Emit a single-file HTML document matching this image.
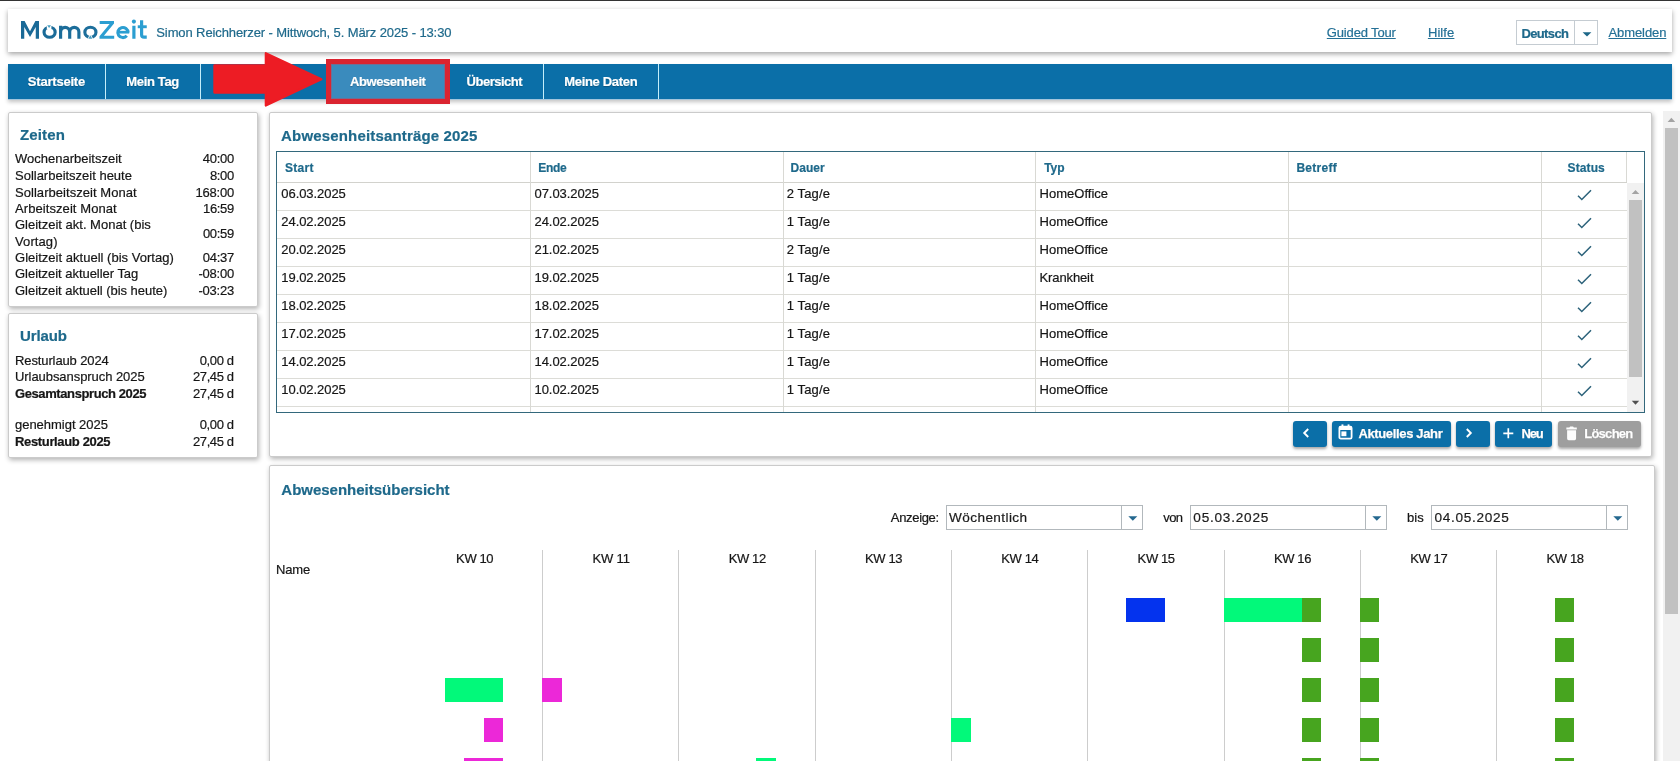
<!DOCTYPE html>
<html><head><meta charset="utf-8"><title>MomoZeit</title>
<style>
*{box-sizing:border-box;margin:0;padding:0}
html,body{width:1680px;height:761px;overflow:hidden;background:#fff}
body{font-family:"Liberation Sans",sans-serif;font-size:13px;color:#161616;position:relative}
#wrap{position:absolute;left:0;top:0;width:1680px;height:761px;overflow:hidden;will-change:transform}
.t{position:absolute;white-space:nowrap;-webkit-text-stroke:0.2px currentColor;line-height:16px;height:16px}
.abs{position:absolute}
.panel{position:absolute;background:#fff;border:1px solid #cbcbcb;border-radius:2px;box-shadow:1px 2px 5px rgba(0,0,0,.3)}
.b{font-weight:bold}
.teal{color:#1e698b}
.h1{font-weight:bold;font-size:16px;color:#1e698b;line-height:20px;height:20px}
.h2{font-weight:bold;font-size:15px;color:#1e698b;line-height:20px;height:20px}
.nav{color:#fff;font-weight:bold;font-size:12px;text-shadow:0 1px 1px rgba(0,0,0,.25)}
.th{font-weight:bold;font-size:12px;color:#1e698b}
.lnk{color:#247096;text-decoration:underline;text-underline-offset:1px;text-decoration-thickness:1px}
.btn{position:absolute;top:421px;height:25.5px;background:#0b6fa8;border-radius:3px;box-shadow:0 2px 3px rgba(0,0,0,.35)}
.btn .t{color:#fff;text-shadow:0 0 1px rgba(0,0,0,.35);-webkit-text-stroke:0.25px #fff}
.inp{position:absolute;top:505px;height:25px;border:1px solid #b2b8bc;background:#fff}
.inp i{position:absolute;top:0;bottom:0;width:1px;background:#b2b8bc}
.inp .t{color:#1c1c1c}
.tri{position:absolute;width:0;height:0;border-left:4.5px solid transparent;border-right:4.5px solid transparent;border-top:5px solid #0b6fa8}
.bar{position:absolute;height:24px}
</style></head>
<body>
<div id="wrap">
<div class="abs" style="left:0;top:0;width:1680px;height:1px;background:#333"></div>
<div class="abs" style="left:8px;top:9px;width:1664px;height:43px;background:#fff;box-shadow:0 2px 5px rgba(0,0,0,.36)"></div>
<svg class="abs" style="left:0;top:0" width="160" height="52" viewBox="0 0 160 52" fill="none">
<defs><linearGradient id="lg" x1="21" x2="99" y1="0" y2="0" gradientUnits="userSpaceOnUse"><stop offset="0" stop-color="#1a6996"/><stop offset="1" stop-color="#1d6f9c"/></linearGradient></defs>
<path d="M21 38.75V21H24.6L30 31.2L35.4 21H39V38.75H35.75V26.9L30 36.9L24.25 26.9V38.75Z" fill="url(#lg)"/>
<g stroke="url(#lg)" stroke-width="3.15">
<ellipse cx="49.6" cy="32.2" rx="5.55" ry="5"/>
<path d="M60.6 38.75V25.75M60.6 31.9a4.55 4.55 0 0 1 9.1 0V38.75M69.7 31.9a4.6 4.55 0 0 1 9.2 0V38.75"/>
<ellipse cx="90.4" cy="32.2" rx="5.55" ry="5"/>
</g>
<rect x="46.8" y="23.5" width="4.6" height="5.6" fill="#fff"/>
<path d="M47.2 25.2h3.8l-1.9 2.9z" fill="#4aa0c2"/>
<path d="M86.9 40L90.35 33.6L93.8 40z" fill="#fff"/>
<path d="M88.3 38.75h4.1l-2.05-3.5z" fill="#4aa0c2"/>
<g fill="#2b9ed1">
<path d="M99.7 21H114V23.5L103.9 35.8H114.2V38.75H99.5V36.3L109.6 24H99.7Z"/>
<rect x="132.3" y="25.75" width="3.2" height="13"/>
<circle cx="133.9" cy="21.6" r="2.05"/>
<rect x="137.75" y="25.3" width="9" height="2.9"/>
</g>
<g stroke="#2b9ed1">
<path d="M118 32.2H129.2" stroke-width="2.7"/>
<path d="M128 32.6A5.1 5 0 1 0 126.8 35.8" stroke-width="3.1"/>
<path d="M141.6 20.2V34.7Q141.6 37.2 144.1 37.2H146.75" stroke-width="3.2"/>
</g>
</svg>
<div class="t teal" id="hdr" style="left:156.30px;top:24.8px;font-size:13px;letter-spacing:-0.110px;line-height:16px;height:16px;">Simon Reichherzer - Mittwoch, 5. März 2025 - 13:30</div>
<div class="t lnk" id="gt" style="left:1326.80px;top:24.9px;font-size:13px;letter-spacing:-0.149px;line-height:16px;height:16px;">Guided Tour</div>
<div class="t lnk" id="hilfe" style="left:1427.90px;top:24.9px;font-size:13px;letter-spacing:0.097px;line-height:16px;height:16px;">Hilfe</div>
<div class="abs" style="left:1516px;top:20px;width:82px;height:25px;border:1px solid #c5ccd2;background:#fff"></div>
<div class="abs" style="left:1574px;top:20px;width:1px;height:25px;background:#c5ccd2"></div>
<div class="t teal" id="deutsch" style="left:1521.50px;top:25.9px;font-size:13px;font-weight:bold;letter-spacing:-0.648px;line-height:16px;height:16px;">Deutsch</div>
<svg class="abs" style="left:1582px;top:32px" width="10" height="6" viewBox="0 0 10 6"><path d="M0.6 0.2H9.4L5 4.6z" fill="#1d6788"/></svg>
<div class="t lnk" id="abm" style="left:1608.50px;top:24.9px;font-size:13px;letter-spacing:-0.091px;line-height:16px;height:16px;">Abmelden</div>
<div class="abs" style="left:8px;top:64px;width:1664px;height:35px;background:#0b6fa8;box-shadow:0 1px 0 rgba(150,195,225,.75),0 3px 4px rgba(0,0,0,.24)"></div>
<div class="abs" style="left:105px;top:64px;width:1px;height:35px;background:#c4eefa"></div>
<div class="abs" style="left:200px;top:64px;width:1px;height:35px;background:#c4eefa"></div>
<div class="abs" style="left:543px;top:64px;width:1px;height:35px;background:#c4eefa"></div>
<div class="abs" style="left:658px;top:64px;width:1px;height:35px;background:#c4eefa"></div>
<div class="t nav" id="n1" style="left:27.80px;top:73.6px;font-size:13px;font-weight:bold;letter-spacing:-0.206px;line-height:16px;height:16px;">Startseite</div>
<div class="t nav" id="n2" style="left:126.35px;top:73.6px;font-size:13px;font-weight:bold;letter-spacing:-0.352px;line-height:16px;height:16px;">Mein Tag</div>
<div class="t nav" id="n4" style="left:466.60px;top:73.6px;font-size:13px;font-weight:bold;letter-spacing:-0.494px;line-height:16px;height:16px;">Übersicht</div>
<div class="t nav" id="n5" style="left:564.30px;top:73.6px;font-size:13px;font-weight:bold;letter-spacing:-0.327px;line-height:16px;height:16px;">Meine Daten</div>
<div class="abs" style="left:326px;top:59px;width:124px;height:45px;background:#da2430"></div>
<div class="abs" style="left:331px;top:64px;width:114px;height:35px;background:#3a8bbd;box-shadow:inset 0 0 0 1px rgba(190,70,90,.4)"></div>
<div class="t nav" id="n3" style="left:350.10px;top:73.6px;font-size:13px;font-weight:bold;letter-spacing:-0.438px;line-height:16px;height:16px;">Abwesenheit</div>
<svg class="abs" style="left:205px;top:48px" width="125" height="64" viewBox="205 48 125 64"><path d="M214.4 65.4H265.8V53.2L321.4 79.35L265.8 105.5V92.6H214.4z" fill="#ed1c24" stroke="#ed1c24" stroke-width="2.2" stroke-linejoin="round"/></svg>
<div class="panel" style="left:8px;top:112px;width:250px;height:195px"></div>
<div class="t teal" id="zeiten" style="left:19.95px;top:124.9px;font-size:15px;font-weight:bold;letter-spacing:0.155px;line-height:20px;height:20px;">Zeiten</div>
<div class="t " id="zl0" style="left:15.00px;top:151px;font-size:13px;letter-spacing:-0.000px;line-height:16px;height:16px;">Wochenarbeitszeit</div>
<div class="t " id="zv0" style="left:202.70px;top:151.3px;font-size:13px;letter-spacing:-0.256px;line-height:16px;height:16px;">40:00</div>
<div class="t " id="zl1" style="left:15.00px;top:168px;font-size:13px;letter-spacing:-0.008px;line-height:16px;height:16px;">Sollarbeitszeit heute</div>
<div class="t " id="zv1" style="left:210.00px;top:168.3px;font-size:13px;letter-spacing:-0.366px;line-height:16px;height:16px;">8:00</div>
<div class="t " id="zl2" style="left:15.00px;top:185px;font-size:13px;letter-spacing:0.047px;line-height:16px;height:16px;">Sollarbeitszeit Monat</div>
<div class="t " id="zv2" style="left:195.40px;top:185.3px;font-size:13px;letter-spacing:-0.193px;line-height:16px;height:16px;">168:00</div>
<div class="t " id="zl3" style="left:15.00px;top:201px;font-size:13px;letter-spacing:0.079px;line-height:16px;height:16px;">Arbeitszeit Monat</div>
<div class="t " id="zv3" style="left:203.00px;top:201.3px;font-size:13px;letter-spacing:-0.332px;line-height:16px;height:16px;">16:59</div>
<div class="t " id="zl4" style="left:15.00px;top:217px;font-size:13px;letter-spacing:-0.001px;line-height:16px;height:16px;">Gleitzeit akt. Monat (bis</div>
<div class="t " id="zl5" style="left:15.00px;top:234px;font-size:13px;letter-spacing:0.098px;line-height:16px;height:16px;">Vortag)</div>
<div class="t " id="zl6" style="left:15.00px;top:250px;font-size:13px;letter-spacing:0.019px;line-height:16px;height:16px;">Gleitzeit aktuell (bis Vortag)</div>
<div class="t " id="zv6" style="left:202.80px;top:250.3px;font-size:13px;letter-spacing:-0.281px;line-height:16px;height:16px;">04:37</div>
<div class="t " id="zl7" style="left:15.00px;top:266px;font-size:13px;letter-spacing:-0.034px;line-height:16px;height:16px;">Gleitzeit aktueller Tag</div>
<div class="t " id="zv7" style="left:198.50px;top:266.3px;font-size:13px;letter-spacing:-0.231px;line-height:16px;height:16px;">-08:00</div>
<div class="t " id="zl8" style="left:15.00px;top:283px;font-size:13px;letter-spacing:-0.031px;line-height:16px;height:16px;">Gleitzeit aktuell (bis heute)</div>
<div class="t " id="zv8" style="left:198.50px;top:283.3px;font-size:13px;letter-spacing:-0.231px;line-height:16px;height:16px;">-03:23</div>
<div class="t " id="zv4" style="left:202.90px;top:226px;font-size:13px;letter-spacing:-0.306px;line-height:16px;height:16px;">00:59</div>
<div class="panel" style="left:8px;top:313px;width:250px;height:145px"></div>
<div class="t teal" id="urlaub" style="left:20.10px;top:325.7px;font-size:15px;font-weight:bold;letter-spacing:-0.161px;line-height:20px;height:20px;">Urlaub</div>
<div class="t " id="ul0" style="left:15.00px;top:353px;font-size:13px;letter-spacing:-0.114px;line-height:16px;height:16px;">Resturlaub 2024</div>
<div class="t " id="uv0" style="left:199.80px;top:353.3px;font-size:13px;letter-spacing:-0.408px;line-height:16px;height:16px;">0,00 d</div>
<div class="t " id="ul1" style="left:15.00px;top:369px;font-size:13px;letter-spacing:-0.063px;line-height:16px;height:16px;">Urlaubsanspruch 2025</div>
<div class="t " id="uv1" style="left:193.00px;top:369.3px;font-size:13px;letter-spacing:-0.411px;line-height:16px;height:16px;">27,45 d</div>
<div class="t " id="ul2" style="left:15.00px;top:386px;font-size:13px;font-weight:bold;letter-spacing:-0.402px;line-height:16px;height:16px;">Gesamtanspruch 2025</div>
<div class="t " id="uv2" style="left:193.00px;top:386.3px;font-size:13px;letter-spacing:-0.411px;line-height:16px;height:16px;">27,45 d</div>
<div class="t " id="ul3" style="left:15.00px;top:416.9px;font-size:13px;letter-spacing:-0.026px;line-height:16px;height:16px;">genehmigt 2025</div>
<div class="t " id="uv3" style="left:199.80px;top:417.2px;font-size:13px;letter-spacing:-0.408px;line-height:16px;height:16px;">0,00 d</div>
<div class="t " id="ul4" style="left:15.00px;top:433.8px;font-size:13px;font-weight:bold;letter-spacing:-0.346px;line-height:16px;height:16px;">Resturlaub 2025</div>
<div class="t " id="uv4" style="left:193.00px;top:434.1px;font-size:13px;letter-spacing:-0.411px;line-height:16px;height:16px;">27,45 d</div>
<div class="panel" style="left:269px;top:112px;width:1383px;height:345px"></div>
<div class="t teal" id="p1t" style="left:281.10px;top:125.6px;font-size:15px;font-weight:bold;letter-spacing:0.162px;line-height:20px;height:20px;">Abwesenheitsanträge 2025</div>
<div class="abs" style="left:276px;top:151px;width:1369px;height:262px;border:1px solid #33687c;background:#fff"></div>
<div class="abs" style="left:277px;top:182px;width:1350px;height:1px;background:#d2d2cd"></div>
<div class="abs" style="left:277px;top:210px;width:1350px;height:1px;background:#dcdcd7"></div>
<div class="abs" style="left:277px;top:238px;width:1350px;height:1px;background:#dcdcd7"></div>
<div class="abs" style="left:277px;top:266px;width:1350px;height:1px;background:#dcdcd7"></div>
<div class="abs" style="left:277px;top:294px;width:1350px;height:1px;background:#dcdcd7"></div>
<div class="abs" style="left:277px;top:322px;width:1350px;height:1px;background:#dcdcd7"></div>
<div class="abs" style="left:277px;top:350px;width:1350px;height:1px;background:#dcdcd7"></div>
<div class="abs" style="left:277px;top:378px;width:1350px;height:1px;background:#dcdcd7"></div>
<div class="abs" style="left:277px;top:406px;width:1350px;height:1px;background:#dcdcd7"></div>
<div class="abs" style="left:530.0px;top:152px;width:1px;height:260px;background:#d9d9d4"></div>
<div class="abs" style="left:782.8px;top:152px;width:1px;height:260px;background:#d9d9d4"></div>
<div class="abs" style="left:1034.9px;top:152px;width:1px;height:260px;background:#d9d9d4"></div>
<div class="abs" style="left:1287.8px;top:152px;width:1px;height:260px;background:#d9d9d4"></div>
<div class="abs" style="left:1541.2px;top:152px;width:1px;height:260px;background:#d9d9d4"></div>
<div class="abs" style="left:1626.2px;top:152px;width:1px;height:30px;background:#d9d9d4"></div>
<div class="t teal" id="th0" style="left:285.10px;top:160.3px;font-size:12px;font-weight:bold;letter-spacing:0.241px;line-height:16px;height:16px;">Start</div>
<div class="t teal" id="th1" style="left:538.20px;top:160.3px;font-size:12px;font-weight:bold;letter-spacing:-0.313px;line-height:16px;height:16px;">Ende</div>
<div class="t teal" id="th2" style="left:790.40px;top:160.3px;font-size:12px;font-weight:bold;letter-spacing:0.073px;line-height:16px;height:16px;">Dauer</div>
<div class="t teal" id="th3" style="left:1044.20px;top:160.3px;font-size:12px;font-weight:bold;letter-spacing:-0.024px;line-height:16px;height:16px;">Typ</div>
<div class="t teal" id="th4" style="left:1296.40px;top:160.3px;font-size:12px;font-weight:bold;letter-spacing:0.267px;line-height:16px;height:16px;">Betreff</div>
<div class="t teal" id="th5" style="left:1567.60px;top:160.3px;font-size:12px;font-weight:bold;letter-spacing:0.106px;line-height:16px;height:16px;">Status</div>
<div class="t " id="td0_0" style="left:281.30px;top:186px;font-size:13px;letter-spacing:-0.063px;line-height:16px;height:16px;">06.03.2025</div>
<div class="t " id="td0_1" style="left:534.50px;top:186px;font-size:13px;letter-spacing:-0.063px;line-height:16px;height:16px;">07.03.2025</div>
<div class="t " id="td0_2" style="left:786.70px;top:186px;font-size:13px;letter-spacing:0.149px;line-height:16px;height:16px;">2 Tag/e</div>
<div class="t " id="td0_3" style="left:1039.50px;top:186px;font-size:13px;letter-spacing:0.023px;line-height:16px;height:16px;">HomeOffice</div>
<svg class="abs" style="left:1576px;top:189px" width="17" height="12" viewBox="0 0 17 12"><path d="M2 6.7L5.8 10.5L15 1.2" fill="none" stroke="#2c627a" stroke-width="1.5"/></svg>
<div class="t " id="td1_0" style="left:281.30px;top:214px;font-size:13px;letter-spacing:-0.063px;line-height:16px;height:16px;">24.02.2025</div>
<div class="t " id="td1_1" style="left:534.50px;top:214px;font-size:13px;letter-spacing:-0.063px;line-height:16px;height:16px;">24.02.2025</div>
<div class="t " id="td1_2" style="left:786.70px;top:214px;font-size:13px;letter-spacing:0.149px;line-height:16px;height:16px;">1 Tag/e</div>
<div class="t " id="td1_3" style="left:1039.50px;top:214px;font-size:13px;letter-spacing:0.023px;line-height:16px;height:16px;">HomeOffice</div>
<svg class="abs" style="left:1576px;top:217px" width="17" height="12" viewBox="0 0 17 12"><path d="M2 6.7L5.8 10.5L15 1.2" fill="none" stroke="#2c627a" stroke-width="1.5"/></svg>
<div class="t " id="td2_0" style="left:281.30px;top:242px;font-size:13px;letter-spacing:-0.063px;line-height:16px;height:16px;">20.02.2025</div>
<div class="t " id="td2_1" style="left:534.50px;top:242px;font-size:13px;letter-spacing:-0.063px;line-height:16px;height:16px;">21.02.2025</div>
<div class="t " id="td2_2" style="left:786.70px;top:242px;font-size:13px;letter-spacing:0.149px;line-height:16px;height:16px;">2 Tag/e</div>
<div class="t " id="td2_3" style="left:1039.50px;top:242px;font-size:13px;letter-spacing:0.023px;line-height:16px;height:16px;">HomeOffice</div>
<svg class="abs" style="left:1576px;top:245px" width="17" height="12" viewBox="0 0 17 12"><path d="M2 6.7L5.8 10.5L15 1.2" fill="none" stroke="#2c627a" stroke-width="1.5"/></svg>
<div class="t " id="td3_0" style="left:281.30px;top:270px;font-size:13px;letter-spacing:-0.063px;line-height:16px;height:16px;">19.02.2025</div>
<div class="t " id="td3_1" style="left:534.50px;top:270px;font-size:13px;letter-spacing:-0.063px;line-height:16px;height:16px;">19.02.2025</div>
<div class="t " id="td3_2" style="left:786.70px;top:270px;font-size:13px;letter-spacing:0.149px;line-height:16px;height:16px;">1 Tag/e</div>
<div class="t " id="td3_3" style="left:1039.50px;top:270px;font-size:13px;letter-spacing:-0.116px;line-height:16px;height:16px;">Krankheit</div>
<svg class="abs" style="left:1576px;top:273px" width="17" height="12" viewBox="0 0 17 12"><path d="M2 6.7L5.8 10.5L15 1.2" fill="none" stroke="#2c627a" stroke-width="1.5"/></svg>
<div class="t " id="td4_0" style="left:281.30px;top:298px;font-size:13px;letter-spacing:-0.063px;line-height:16px;height:16px;">18.02.2025</div>
<div class="t " id="td4_1" style="left:534.50px;top:298px;font-size:13px;letter-spacing:-0.063px;line-height:16px;height:16px;">18.02.2025</div>
<div class="t " id="td4_2" style="left:786.70px;top:298px;font-size:13px;letter-spacing:0.149px;line-height:16px;height:16px;">1 Tag/e</div>
<div class="t " id="td4_3" style="left:1039.50px;top:298px;font-size:13px;letter-spacing:0.023px;line-height:16px;height:16px;">HomeOffice</div>
<svg class="abs" style="left:1576px;top:301px" width="17" height="12" viewBox="0 0 17 12"><path d="M2 6.7L5.8 10.5L15 1.2" fill="none" stroke="#2c627a" stroke-width="1.5"/></svg>
<div class="t " id="td5_0" style="left:281.30px;top:326px;font-size:13px;letter-spacing:-0.063px;line-height:16px;height:16px;">17.02.2025</div>
<div class="t " id="td5_1" style="left:534.50px;top:326px;font-size:13px;letter-spacing:-0.063px;line-height:16px;height:16px;">17.02.2025</div>
<div class="t " id="td5_2" style="left:786.70px;top:326px;font-size:13px;letter-spacing:0.149px;line-height:16px;height:16px;">1 Tag/e</div>
<div class="t " id="td5_3" style="left:1039.50px;top:326px;font-size:13px;letter-spacing:0.023px;line-height:16px;height:16px;">HomeOffice</div>
<svg class="abs" style="left:1576px;top:329px" width="17" height="12" viewBox="0 0 17 12"><path d="M2 6.7L5.8 10.5L15 1.2" fill="none" stroke="#2c627a" stroke-width="1.5"/></svg>
<div class="t " id="td6_0" style="left:281.30px;top:354px;font-size:13px;letter-spacing:-0.063px;line-height:16px;height:16px;">14.02.2025</div>
<div class="t " id="td6_1" style="left:534.50px;top:354px;font-size:13px;letter-spacing:-0.063px;line-height:16px;height:16px;">14.02.2025</div>
<div class="t " id="td6_2" style="left:786.70px;top:354px;font-size:13px;letter-spacing:0.149px;line-height:16px;height:16px;">1 Tag/e</div>
<div class="t " id="td6_3" style="left:1039.50px;top:354px;font-size:13px;letter-spacing:0.023px;line-height:16px;height:16px;">HomeOffice</div>
<svg class="abs" style="left:1576px;top:357px" width="17" height="12" viewBox="0 0 17 12"><path d="M2 6.7L5.8 10.5L15 1.2" fill="none" stroke="#2c627a" stroke-width="1.5"/></svg>
<div class="t " id="td7_0" style="left:281.30px;top:382px;font-size:13px;letter-spacing:-0.063px;line-height:16px;height:16px;">10.02.2025</div>
<div class="t " id="td7_1" style="left:534.50px;top:382px;font-size:13px;letter-spacing:-0.063px;line-height:16px;height:16px;">10.02.2025</div>
<div class="t " id="td7_2" style="left:786.70px;top:382px;font-size:13px;letter-spacing:0.149px;line-height:16px;height:16px;">1 Tag/e</div>
<div class="t " id="td7_3" style="left:1039.50px;top:382px;font-size:13px;letter-spacing:0.023px;line-height:16px;height:16px;">HomeOffice</div>
<svg class="abs" style="left:1576px;top:385px" width="17" height="12" viewBox="0 0 17 12"><path d="M2 6.7L5.8 10.5L15 1.2" fill="none" stroke="#2c627a" stroke-width="1.5"/></svg>
<div class="abs" style="left:1627px;top:183px;width:17px;height:229px;background:#f1f1f1"></div>
<div class="abs" style="left:1629px;top:200px;width:13px;height:177px;background:#c1c1c1"></div>
<svg class="abs" style="left:1631px;top:189px" width="9" height="6" viewBox="0 0 9 6"><path d="M0.7 5L4.5 1L8.3 5z" fill="#a3a3a3"/></svg>
<svg class="abs" style="left:1631px;top:400px" width="9" height="6" viewBox="0 0 9 6"><path d="M0.8 0.8H8.2L4.5 4.8z" fill="#505050"/></svg>
<div class="btn" style="left:1293.4px;width:33.5px"><svg class="abs" style="left:9px;top:7.2px" width="8" height="10" viewBox="0 0 8 10"><path d="M6.2 1L2.2 5L6.2 9" fill="none" stroke="#fff" stroke-width="1.9"/></svg></div>
<div class="btn" style="left:1332.4px;width:118.5px"><svg class="abs" style="left:5.6px;top:3.2px" width="15" height="16" viewBox="0 0 15 16"><rect x="1.4" y="2.6" width="12.2" height="12" rx="1.4" fill="none" stroke="#fff" stroke-width="1.8"/><rect x="1.4" y="2.6" width="12.2" height="3.4" fill="#fff"/><rect x="3.5" y="0.4" width="1.9" height="3" fill="#fff"/><rect x="9.6" y="0.4" width="1.9" height="3" fill="#fff"/><rect x="3.4" y="7.4" width="5" height="4.8" fill="#fff"/></svg><div class="t " id="bt1" style="left:26.00px;top:4.6px;font-size:13px;font-weight:bold;letter-spacing:-0.351px;line-height:16px;height:16px;">Aktuelles Jahr</div></div>
<div class="btn" style="left:1456.4px;width:33.5px"><svg class="abs" style="left:9px;top:7.2px" width="8" height="10" viewBox="0 0 8 10"><path d="M1.8 1L5.8 5L1.8 9" fill="none" stroke="#fff" stroke-width="1.9"/></svg></div>
<div class="btn" style="left:1495.4px;width:56.6px"><svg class="abs" style="left:7.2px;top:7.2px" width="11" height="11" viewBox="0 0 11 11"><path d="M5.3 0.3V10.3M0.3 5.3H10.3" stroke="#fff" stroke-width="1.7"/></svg><div class="t " id="bt2" style="left:26.00px;top:4.6px;font-size:13px;font-weight:bold;letter-spacing:-1.078px;line-height:16px;height:16px;">Neu</div></div>
<div class="btn" style="left:1558.1px;width:83.1px;background:#9e9e9e"><svg class="abs" style="left:7.6px;top:4.8px" width="11.2" height="15" viewBox="0 0 12 15" preserveAspectRatio="none"><path d="M0.4 1.6h3.2l.8-1h3.2l.8 1h3.2v2H0.4zM1.2 4.2h9.6v8.4q0 1.6-1.6 1.6H2.8q-1.6 0-1.6-1.6z" fill="#fdfdfd"/></svg><div class="t " id="bt3" style="left:26.10px;top:4.6px;font-size:13px;font-weight:bold;letter-spacing:-0.726px;line-height:16px;height:16px;">Löschen</div></div>
<div class="panel" style="left:269px;top:465px;width:1386px;height:320px"></div>
<div class="t teal" id="p2t" style="left:281.30px;top:480.0px;font-size:15px;font-weight:bold;letter-spacing:-0.004px;line-height:20px;height:20px;">Abwesenheitsübersicht</div>
<div class="t " id="anz" style="left:890.85px;top:509.6px;font-size:13px;letter-spacing:-0.335px;line-height:16px;height:16px;">Anzeige:</div>
<div class="t " id="von" style="left:1163.30px;top:509.6px;font-size:13px;letter-spacing:-0.578px;line-height:16px;height:16px;">von</div>
<div class="t " id="bis" style="left:1407.10px;top:509.6px;font-size:13px;letter-spacing:0.043px;line-height:16px;height:16px;">bis</div>
<div class="inp" style="left:946.25px;width:196.5px"><i style="left:173.6px"></i><div class="t " id="in1" style="left:1.85px;top:3.6px;font-size:13.6px;letter-spacing:0.392px;line-height:16px;height:16px;">Wöchentlich</div><svg class="abs" style="left:180.5px;top:9.5px" width="10" height="6" viewBox="0 0 10 6"><path d="M0.3 0.3H9.3L4.8 4.7z" fill="#25688f"/></svg></div>
<div class="inp" style="left:1190.25px;width:196.5px"><i style="left:173.6px"></i><div class="t " id="in2" style="left:2.10px;top:3.6px;font-size:13.6px;letter-spacing:0.765px;line-height:16px;height:16px;">05.03.2025</div><svg class="abs" style="left:180.5px;top:9.5px" width="10" height="6" viewBox="0 0 10 6"><path d="M0.3 0.3H9.3L4.8 4.7z" fill="#25688f"/></svg></div>
<div class="inp" style="left:1431px;width:196.5px"><i style="left:173.6px"></i><div class="t " id="in3" style="left:2.60px;top:3.6px;font-size:13.6px;letter-spacing:0.692px;line-height:16px;height:16px;">04.05.2025</div><svg class="abs" style="left:180.5px;top:9.5px" width="10" height="6" viewBox="0 0 10 6"><path d="M0.3 0.3H9.3L4.8 4.7z" fill="#25688f"/></svg></div>
<div class="t " id="name" style="left:275.90px;top:561.7px;font-size:13px;letter-spacing:-0.095px;line-height:16px;height:16px;">Name</div>
<div class="t " id="kw0" style="left:456.10px;top:550.5px;font-size:13px;letter-spacing:-0.378px;line-height:16px;height:16px;">KW 10</div>
<div class="t " id="kw1" style="left:592.40px;top:550.5px;font-size:13px;letter-spacing:-0.138px;line-height:16px;height:16px;">KW 11</div>
<div class="abs" style="left:542px;top:550px;width:1px;height:211px;background:#cdcdcd"></div>
<div class="t " id="kw2" style="left:728.70px;top:550.5px;font-size:13px;letter-spacing:-0.378px;line-height:16px;height:16px;">KW 12</div>
<div class="abs" style="left:678px;top:550px;width:1px;height:211px;background:#cdcdcd"></div>
<div class="t " id="kw3" style="left:865.00px;top:550.5px;font-size:13px;letter-spacing:-0.378px;line-height:16px;height:16px;">KW 13</div>
<div class="abs" style="left:815px;top:550px;width:1px;height:211px;background:#cdcdcd"></div>
<div class="t " id="kw4" style="left:1001.30px;top:550.5px;font-size:13px;letter-spacing:-0.378px;line-height:16px;height:16px;">KW 14</div>
<div class="abs" style="left:951px;top:550px;width:1px;height:211px;background:#cdcdcd"></div>
<div class="t " id="kw5" style="left:1137.60px;top:550.5px;font-size:13px;letter-spacing:-0.378px;line-height:16px;height:16px;">KW 15</div>
<div class="abs" style="left:1087px;top:550px;width:1px;height:211px;background:#cdcdcd"></div>
<div class="t " id="kw6" style="left:1273.90px;top:550.5px;font-size:13px;letter-spacing:-0.378px;line-height:16px;height:16px;">KW 16</div>
<div class="abs" style="left:1224px;top:550px;width:1px;height:211px;background:#cdcdcd"></div>
<div class="t " id="kw7" style="left:1410.20px;top:550.5px;font-size:13px;letter-spacing:-0.378px;line-height:16px;height:16px;">KW 17</div>
<div class="abs" style="left:1360px;top:550px;width:1px;height:211px;background:#cdcdcd"></div>
<div class="t " id="kw8" style="left:1546.50px;top:550.5px;font-size:13px;letter-spacing:-0.378px;line-height:16px;height:16px;">KW 18</div>
<div class="abs" style="left:1496px;top:550px;width:1px;height:211px;background:#cdcdcd"></div>
<div class="bar" style="left:1302px;top:598px;width:19px;background:#47a51f"></div>
<div class="bar" style="left:1360px;top:598px;width:19px;background:#47a51f"></div>
<div class="bar" style="left:1555px;top:598px;width:19px;background:#47a51f"></div>
<div class="bar" style="left:1302px;top:638px;width:19px;background:#47a51f"></div>
<div class="bar" style="left:1360px;top:638px;width:19px;background:#47a51f"></div>
<div class="bar" style="left:1555px;top:638px;width:19px;background:#47a51f"></div>
<div class="bar" style="left:1302px;top:678px;width:19px;background:#47a51f"></div>
<div class="bar" style="left:1360px;top:678px;width:19px;background:#47a51f"></div>
<div class="bar" style="left:1555px;top:678px;width:19px;background:#47a51f"></div>
<div class="bar" style="left:1302px;top:718px;width:19px;background:#47a51f"></div>
<div class="bar" style="left:1360px;top:718px;width:19px;background:#47a51f"></div>
<div class="bar" style="left:1555px;top:718px;width:19px;background:#47a51f"></div>
<div class="bar" style="left:1302px;top:758px;width:19px;background:#47a51f"></div>
<div class="bar" style="left:1360px;top:758px;width:19px;background:#47a51f"></div>
<div class="bar" style="left:1555px;top:758px;width:19px;background:#47a51f"></div>
<div class="bar" style="left:1126px;top:598px;width:39px;background:#0433ee"></div>
<div class="bar" style="left:1224px;top:598px;width:78px;background:#02f97a"></div>
<div class="bar" style="left:445px;top:678px;width:58px;background:#02f97a"></div>
<div class="bar" style="left:542px;top:678px;width:20px;background:#ec28d8"></div>
<div class="bar" style="left:484px;top:718px;width:19px;background:#ec28d8"></div>
<div class="bar" style="left:951px;top:718px;width:20px;background:#02f97a"></div>
<div class="bar" style="left:464px;top:758px;width:39px;background:#ec28d8"></div>
<div class="bar" style="left:756px;top:758px;width:20px;background:#02f97a"></div>
<div class="abs" style="left:1663px;top:111px;width:17px;height:650px;background:#f1f1f1"></div>
<div class="abs" style="left:1665px;top:128px;width:13px;height:486px;background:#c1c1c1"></div>
<svg class="abs" style="left:1667px;top:117px" width="9" height="6" viewBox="0 0 9 6"><path d="M0.6 5L4.4 0.8L8.2 5z" fill="#a3a3a3"/></svg>
</div>
</body></html>
